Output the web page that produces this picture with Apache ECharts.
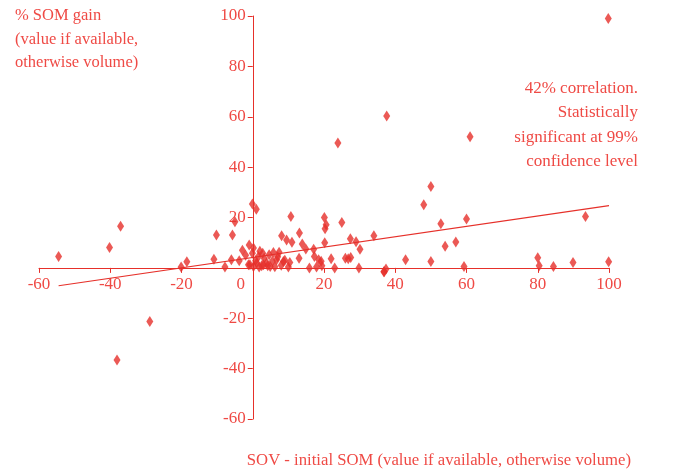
<!DOCTYPE html>
<html><head><meta charset="utf-8">
<script src="https://cdn.jsdelivr.net/npm/echarts@6/dist/echarts.min.js"></script>
<style>html,body{margin:0;padding:0;background:#fff}#c{width:679px;height:473px}</style>
</head><body><div id="c"></div>
<script>
// SOV - initial SOM (x) and % SOM gain (y)
const sovX = [-54.5,-40.2,-37.1,-28.9,-38.1,-20.1,-18.5,-10.9,-10.2,-7.8,-6.0,-5.7,-5.0,-3.8,-2.9,-2.0,-1.0,-0.1,1.0,-0.1,0.2,-1.2,
  10.7,8.1,9.5,11.0,13.1,13.9,14.9,13.0,20.1,20.6,20.3,20.2,25.0,27.4,29.0,30.1,34.0,17.1,17.3,18.5,19.2,22.0,23.0,26.0,26.8,27.5,29.8,15.9,17.9,19.4,36.9,37.4,
  10.0,10.4,8.6,7.4,5.8,4.6,2.8,3.2,1.6,1.1,2.5,3.9,4.9,6.7,-0.8,0.2,0.8,1.8,3.0,4.2,5.5,6.2,7.0,8.0,9.0,2.0,
  37.6,61.0,50.0,48.0,52.8,60.0,54.0,57.0,93.4,42.9,50.0,59.3,80.0,80.4,84.4,89.9,99.9,36.8,23.9,99.8];
const somY = [4.5,8.1,16.5,-21.3,-36.6,0.3,2.4,3.4,13.1,0.3,3.2,13.1,18.3,2.8,7.0,5.0,9.1,25.4,23.3,5.8,7.9,1.2,
  20.4,12.8,11.1,10.2,13.8,9.5,7.5,3.8,20.0,17.1,15.5,10.0,18.0,11.6,10.4,7.4,12.8,7.4,4.5,3.2,2.6,3.6,0.0,3.8,3.6,4.1,0.0,0.0,0.3,0.8,-1.5,-0.4,
  0.3,2.1,2.5,6.2,6.1,5.2,5.8,3.8,4.5,1.9,0.8,1.9,0.5,3.2,1.2,0.5,2.8,0.3,1.2,0.8,2.6,0.4,4.4,1.0,3.0,6.6,
  60.3,52.1,32.3,25.1,17.5,19.4,8.6,10.3,20.4,3.2,2.5,0.5,4.0,0.8,0.5,2.1,2.4,-1.5,49.6,99.0];
// Trend line end points
const trendX = [-54.5, 100];
const trendY = [-7.1, 24.7];
const yTitle = '% SOM gain\n(value if available,\notherwise volume)';
const xTitle = 'SOV - initial SOM (value if available, otherwise volume)';
const note = '42% correlation.\nStatistically\nsignificant at 99%\nconfidence level';

const RED = '#e6302a';
const TXT = '#ef4a45';
const FONT = '"Liberation Serif", serif';
const W = 679, H = 473;
const G = {left: 39, right: 70, top: 16, bottom: 54};
const XMIN = -60, XMAX = 100, YMIN = -60, YMAX = 100;
// offsets so that the axes (with their labels) cross at zero
const plotW = W - G.left - G.right, plotH = H - G.top - G.bottom;
const xOff = -plotH * (0 - YMIN) / (YMAX - YMIN);
const yOff = -plotW * (0 - XMIN) / (XMAX - XMIN);

const chart = echarts.init(document.getElementById('c'));
chart.setOption({
  animation: false,
  textStyle: {fontFamily: FONT},
  grid: G,
  xAxis: {
    type: 'value', min: XMIN, max: XMAX, interval: 20, position: 'bottom', offset: xOff,
    splitLine: {show: false},
    axisLine: {onZero: false, lineStyle: {color: RED, width: 1}},
    axisTick: {show: true, length: 5, lineStyle: {color: RED}},
    axisLabel: {color: TXT, fontSize: 17, fontFamily: FONT, margin: 8,
      formatter: v => v === 0 ? '{z|0}' : String(v),
      rich: {z: {color: TXT, fontSize: 17, fontFamily: FONT, padding: [0, 24, 0, 0]}}}
  },
  yAxis: {
    type: 'value', min: YMIN, max: YMAX, interval: 20, position: 'left', offset: yOff,
    splitLine: {show: false},
    axisLine: {onZero: false, lineStyle: {color: RED, width: 1}},
    axisTick: {show: true, length: 5, lineStyle: {color: RED}},
    axisLabel: {color: TXT, fontSize: 17, fontFamily: FONT, margin: 7,
      formatter: v => v === 0 ? '' : String(v)}
  },
  graphic: [
    {type: 'text', left: 15, top: 4, style: {text: yTitle, fill: TXT, font: '16.5px ' + FONT, lineHeight: 23.5}},
    {type: 'text', right: 41, top: 76, style: {text: note, fill: TXT, font: '17px ' + FONT, lineHeight: 24.5, textAlign: 'right'}},
    {type: 'text', right: 48, top: 452, style: {text: xTitle, fill: TXT, font: '16.7px ' + FONT}}
  ],
  series: [
    {type: 'scatter', data: sovX.map((x, i) => [x, somY[i]]), symbol: 'diamond', symbolSize: [7, 11],
     itemStyle: {color: RED}, z: 3},
    {type: 'line', data: trendX.map((x, i) => [x, trendY[i]]), symbol: 'none',
     lineStyle: {color: RED, width: 1.2}, z: 2}
  ]
});
</script></body></html>
